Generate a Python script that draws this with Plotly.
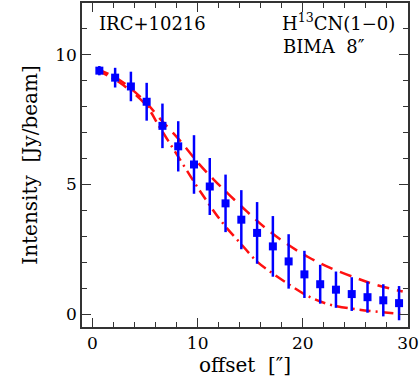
import plotly.graph_objects as go

# measured intensities along the offset
offset = [0.65, 2.15, 3.65, 5.15, 6.65, 8.15, 9.65, 11.15, 12.65, 14.15,
          15.65, 17.15, 18.65, 20.15, 21.65, 23.15, 24.65, 26.15, 27.65, 29.15]
intensity = [9.39, 9.12, 8.78, 8.19, 7.26, 6.47, 5.77, 4.92, 4.27, 3.64,
             3.13, 2.61, 2.03, 1.53, 1.15, 0.94, 0.77, 0.65, 0.53, 0.42]
err = [0.18, 0.38, 0.57, 0.73, 0.86, 0.97, 1.13, 1.10, 1.11, 1.14,
       1.19, 1.17, 1.05, 0.91, 0.75, 0.70, 0.65, 0.60, 0.62, 0.66]

# model curves (dashed upper, dash-dot lower)
upper_x = [0.45, 2.5, 5.0, 6.5, 8.3, 10.0, 11.5, 13.0, 14.7, 16.5, 18.5, 20.5, 22.5, 25.0, 27.0, 29.5]
upper_y = [9.45, 9.05, 8.2, 7.5, 6.7, 5.85, 5.2, 4.6, 3.95, 3.3, 2.7, 2.2, 1.8, 1.4, 1.12, 0.87]
lower_x = [0.45, 2.5, 5.0, 6.4, 8.1, 10.3, 12.4, 14.0, 15.7, 16.7, 18.5, 20.6, 22.7, 25.2, 28.1, 29.5]
lower_y = [9.4, 8.95, 8.1, 7.2, 6.1, 4.7, 3.5, 2.76, 2.0, 1.69, 1.19, 0.67, 0.35, 0.18, 0.05, 0.0]

font = "DejaVu Serif"
red = "#ff1010"
blue = "#0000ff"
ink = "#333333"

fig = go.Figure()
fig.add_trace(go.Scatter(x=upper_x, y=upper_y, mode="lines",
                         line=dict(color=red, width=2.5, dash="12px,8px", shape="spline")))
fig.add_trace(go.Scatter(x=lower_x, y=lower_y, mode="lines",
                         line=dict(color=red, width=2.5, dash="11px,5px,2px,5px", shape="spline")))
fig.add_trace(go.Scatter(x=offset, y=intensity, mode="markers",
                         marker=dict(symbol="square", size=8, color=blue),
                         error_y=dict(type="data", array=err, color=blue, thickness=2.5, width=0)))

axis_common = dict(showline=True, linecolor=ink, linewidth=1.5, mirror="ticks",
                   ticks="inside", tickcolor=ink, tickwidth=1.3, ticklen=9,
                   showgrid=False, zeroline=False,
                   tickfont=dict(family=font, size=17, color="black"))

fig.update_xaxes(range=[-1, 30], dtick=10, tick0=0,
                 minor=dict(dtick=2, ticks="inside", ticklen=5, tickcolor=ink, tickwidth=1.3),
                 title=dict(text="offset  [\u2033]", font=dict(family=font, size=20, color="black"), standoff=6),
                 **axis_common)
fig.update_yaxes(range=[-0.5, 12], dtick=5, tick0=0,
                 minor=dict(dtick=1, ticks="inside", ticklen=5, tickcolor=ink, tickwidth=1.3),
                 title=dict(text="Intensity  [Jy/beam]", font=dict(family=font, size=20, color="black"), standoff=12),
                 **axis_common)

fig.add_annotation(x=0.045, y=0.975, xref="paper", yref="paper", xanchor="left", yanchor="top",
                   text="IRC+10216", showarrow=False, font=dict(family=font, size=18, color="black"))
fig.add_annotation(x=0.965, y=0.985, xref="paper", yref="paper", xanchor="right", yanchor="top",
                   text="H<sup>13</sup>CN(1\u22120)", showarrow=False, font=dict(family=font, size=18, color="black"))
fig.add_annotation(x=0.61, y=0.905, xref="paper", yref="paper", xanchor="left", yanchor="top",
                   text="BIMA  8\u2033", showarrow=False, font=dict(family=font, size=18, color="black"))

fig.update_layout(width=420, height=382, showlegend=False,
                  plot_bgcolor="white", paper_bgcolor="white",
                  margin=dict(l=82, r=11, t=1, b=55))

fig.write_html("out.html", config={"displayModeBar": False},
               post_script="document.body.style.margin='0';")
